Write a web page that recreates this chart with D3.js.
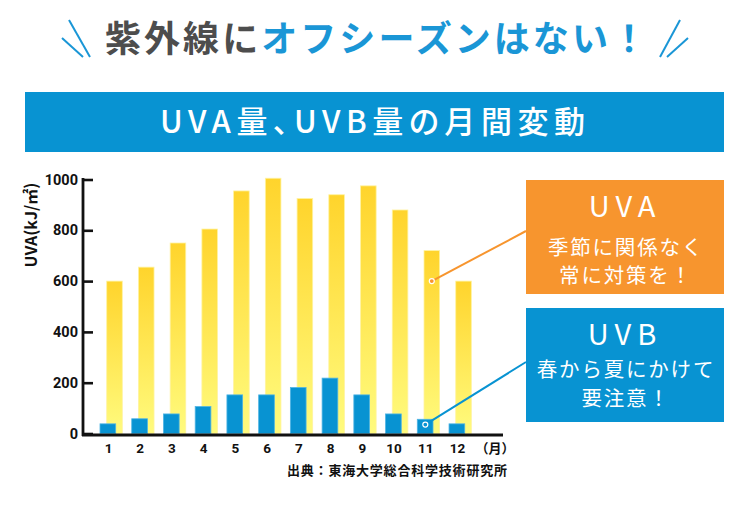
<!DOCTYPE html>
<html>
<head>
<meta charset="utf-8">
<script src="https://cdn.jsdelivr.net/npm/d3@7"></script>
<style>
  body { margin: 0; background: #fff; }
  svg { display: block; }
  .jp { font-family: "Noto Sans CJK JP", "Noto Sans", sans-serif; }
  .num { font-family: Roboto, "DejaVu Sans", sans-serif; font-weight: 700; }
</style>
</head>
<body>
<svg id="chart"></svg>
<script>
// data
const months = [1, 2, 3, 4, 5, 6, 7, 8, 9, 10, 11, 12];
const uva = [600, 655, 750, 805, 955, 1005, 925, 940, 975, 880, 720, 600];
const uvb = [38, 58, 77, 106, 152, 152, 181, 218, 152, 77, 56, 38];
const yTicks = [0, 200, 400, 600, 800, 1000];

const width = 750;
const height = 520;
const blue = "#0893d2";
const orange = "#f7952e";

const svg = d3.select("#chart")
  .attr("width", width)
  .attr("height", height);

// gradient for the UVA bars
const grad = svg.append("defs").append("linearGradient")
  .attr("id", "uvaGrad")
  .attr("x1", 0).attr("y1", 0).attr("x2", 0).attr("y2", 1);
grad.append("stop").attr("offset", "0%").attr("stop-color", "#ffd42c");
grad.append("stop").attr("offset", "100%").attr("stop-color", "#fffb7e");

// headline
svg.append("text")
  .attr("class", "jp")
  .attr("x", 105)
  .attr("y", 52)
  .attr("textLength", 542)
  .attr("lengthAdjust", "spacing")
  .style("font-size", "36px")
  .style("font-weight", 700)
  .call(t => {
    t.append("tspan").attr("fill", "#4d4d4d").text("紫外線に");
    t.append("tspan").attr("fill", "#1a96d6").text("オフシーズンはない！");
  });

// little slashes round the headline
const slashes = [
  [69, 20, 90, 57], [62, 38, 83, 57],
  [680, 20, 660, 57], [688, 38, 667, 57]
];
svg.selectAll("line.slash")
  .data(slashes)
  .enter()
  .append("line")
  .attr("class", "slash")
  .attr("x1", d => d[0]).attr("y1", d => d[1])
  .attr("x2", d => d[2]).attr("y2", d => d[3])
  .attr("stroke", "#1a96d6")
  .attr("stroke-width", 2);

// banner
svg.append("rect")
  .attr("x", 25).attr("y", 92)
  .attr("width", 699).attr("height", 60)
  .attr("fill", blue);

svg.append("text")
  .attr("class", "jp")
  .attr("x", 160)
  .attr("y", 133)
  .attr("textLength", 425)
  .attr("lengthAdjust", "spacing")
  .attr("fill", "#fff")
  .style("font-size", "31px")
  .style("font-weight", 500)
  .style("font-feature-settings", "'palt'")
  .text("UVA量、UVB量の月間変動");

// scales
const x = d3.scaleBand()
  .domain(months)
  .range([92, 92 + 12 * 31.73]);

const y = d3.scaleLinear()
  .domain([0, 1000])
  .range([433.5, 179.5]);

// UVA bars
svg.selectAll("rect.uva")
  .data(months)
  .enter()
  .append("rect")
  .attr("class", "uva")
  .attr("x", d => x(d) + 14.7)
  .attr("width", 15.6)
  .attr("y", (d, i) => y(uva[i]))
  .attr("height", (d, i) => y(0) - y(uva[i]))
  .attr("fill", "url(#uvaGrad)")
  .attr("stroke", "#fff3a0")
  .attr("stroke-width", 0.8);

// UVB bars
svg.selectAll("rect.uvb")
  .data(months)
  .enter()
  .append("rect")
  .attr("class", "uvb")
  .attr("x", d => x(d) + 8)
  .attr("width", 15.7)
  .attr("y", (d, i) => y(uvb[i]))
  .attr("height", (d, i) => y(0) - y(uvb[i]))
  .attr("fill", blue)
  .attr("stroke", "#4fb4e4")
  .attr("stroke-width", 0.8);

// y axis
const yAxis = d3.axisRight(y)
  .tickValues(yTicks)
  .tickSize(11)
  .tickFormat(d3.format("d"));

svg.append("g")
  .attr("transform", "translate(82,0)")
  .call(yAxis)
  .call(g => g.select(".domain").remove())
  .call(g => g.selectAll("line").attr("stroke", "#111").attr("stroke-width", 2.6))
  .call(g => g.selectAll("text")
    .attr("class", "num")
    .attr("x", -4)
    .attr("text-anchor", "end")
    .attr("fill", "#111")
    .style("font-size", "14.5px"));

svg.append("line")
  .attr("x1", 83).attr("x2", 83)
  .attr("y1", 178).attr("y2", 436)
  .attr("stroke", "#111").attr("stroke-width", 2.8);

svg.append("line")
  .attr("x1", 82).attr("x2", 503)
  .attr("y1", 435).attr("y2", 435)
  .attr("stroke", "#111").attr("stroke-width", 3);

// month labels
svg.selectAll("text.month")
  .data(months)
  .enter()
  .append("text")
  .attr("class", "num month")
  .attr("x", d => x(d) + 16.5)
  .attr("y", 453)
  .attr("text-anchor", "middle")
  .attr("fill", "#111")
  .style("font-size", "13.5px")
  .text(d => d);

svg.append("text")
  .attr("class", "jp")
  .attr("x", 495)
  .attr("y", 453)
  .attr("text-anchor", "middle")
  .attr("fill", "#111")
  .style("font-size", "13px")
  .style("font-weight", 700)
  .text("（月）");

svg.append("text")
  .attr("class", "jp")
  .attr("x", 287)
  .attr("y", 475)
  .attr("textLength", 220)
  .attr("lengthAdjust", "spacing")
  .attr("fill", "#111")
  .style("font-size", "13px")
  .style("font-weight", 700)
  .text("出典：東海大学総合科学技術研究所");

// y axis title
svg.append("text")
  .attr("class", "jp")
  .attr("transform", "translate(37,225) rotate(-90)")
  .attr("text-anchor", "middle")
  .attr("fill", "#111")
  .style("font-size", "16px")
  .style("font-weight", 700)
  .text("UVA(kJ/㎡)");

// callout boxes
const boxes = [
  { y: 180, color: orange, title: "UVA", lines: ["季節に関係なく", "常に対策を！"],
    base: [217, 255, 283], month: 11, val: 600, off: 22.5, end: 231 },
  { y: 308, color: blue, title: "UVB", lines: ["春から夏にかけて", "要注意！"],
    base: [345, 377, 406], month: 11, val: 35, off: 16, end: 362 }
];

boxes.forEach(b => {
  svg.append("line")
    .attr("x1", x(b.month) + b.off).attr("y1", y(b.val))
    .attr("x2", 526).attr("y2", b.end)
    .attr("stroke", b.color).attr("stroke-width", 2);
  svg.append("circle")
    .attr("cx", x(b.month) + b.off).attr("cy", y(b.val))
    .attr("r", 2.5)
    .attr("fill", b.color)
    .attr("stroke", "#fff").attr("stroke-width", 1.2);

  svg.append("rect")
    .attr("x", 526).attr("y", b.y)
    .attr("width", 198).attr("height", 114)
    .attr("fill", b.color);

  svg.append("text")
    .attr("class", "jp")
    .attr("x", 625)
    .attr("y", b.base[0])
    .attr("text-anchor", "middle")
    .attr("fill", "#fff")
    .style("font-size", "29px")
    .style("letter-spacing", "6px")
    .text(b.title);

  b.lines.forEach((l, i) => {
    svg.append("text")
      .attr("class", "jp")
      .attr("x", 626)
      .attr("y", b.base[i + 1])
      .attr("text-anchor", "middle")
      .attr("fill", "#fff")
      .style("font-size", "20.5px")
      .style("letter-spacing", "1.8px")
      .text(l);
  });
});
</script>
</body>
</html>
